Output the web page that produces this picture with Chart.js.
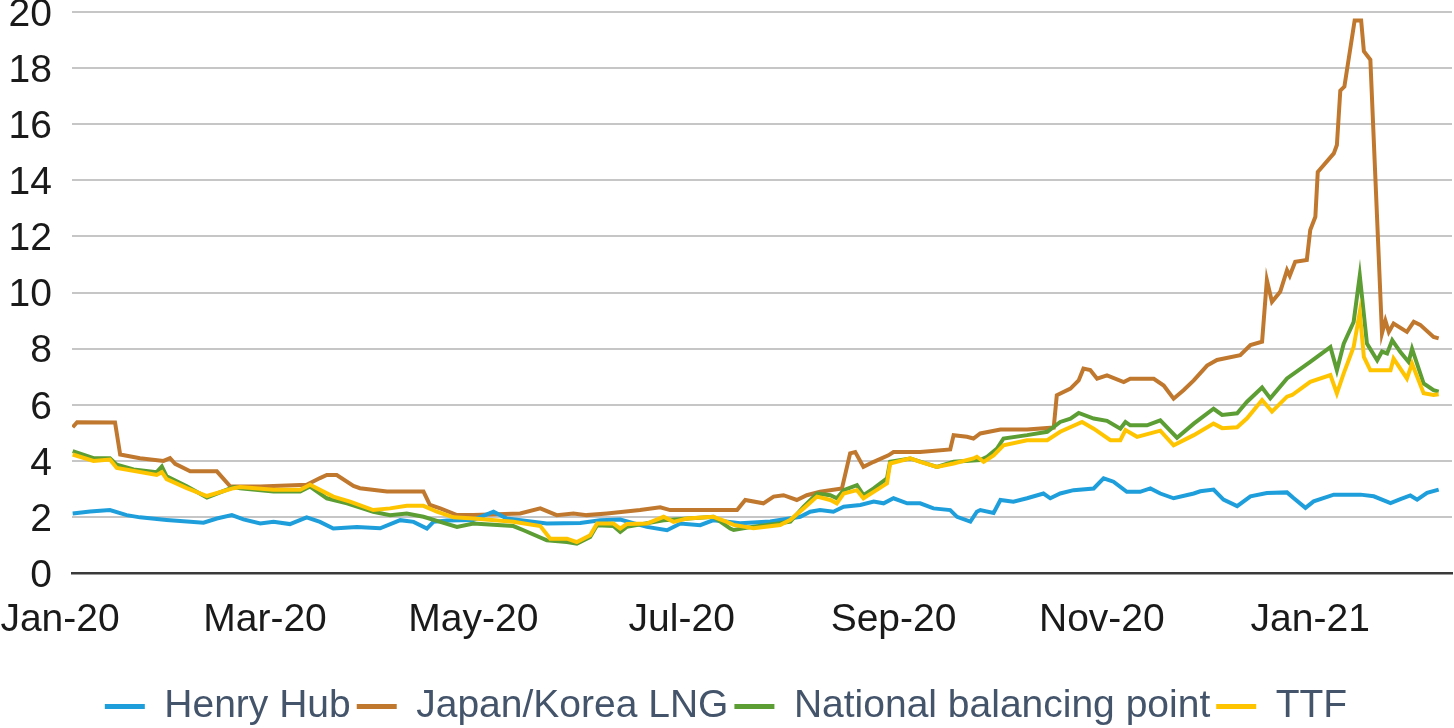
<!DOCTYPE html>
<html>
<head>
<meta charset="utf-8">
<title>Gas prices</title>
<script src="https://cdn.jsdelivr.net/npm/chart.js@4/dist/chart.umd.min.js"></script>
<style>
	html, body { margin: 0; padding: 0; background: #fff; overflow: hidden; }
	#wrap { width: 1454px; height: 728px; }
</style>
</head>
<body>
<div id="wrap"><canvas id="gasChart" width="1454" height="728"></canvas></div>
<script>
// x values are days since 1 Jan 2020
const tickDays = [0, 60, 121, 182, 244, 305, 366];
const tickLabels = ['Jan-20', 'Mar-20', 'May-20', 'Jul-20', 'Sep-20', 'Nov-20', 'Jan-21'];
const yTicks = [0, 2, 4, 6, 8, 10, 12, 14, 16, 18, 20];

const seriesNames = ['Henry Hub', 'Japan/Korea LNG', 'National balancing point', 'TTF'];
const seriesColors = ['#1e9fdc', '#c0782f', '#5c9e33', '#ffc400'];

const henryDays = [3.7, 8.8, 14.6, 19.5, 23.4, 31.2, 42, 45.9, 50.3, 53.7, 58.6, 62.5, 67.3, 72.2, 76.1, 80, 86.9, 93.7, 99.6, 103.5, 107.4, 109.3, 113.2, 121, 126.9, 130.8, 142.5, 152.3, 158.1, 164, 171.8, 177.7, 181.6, 187.4, 191.3, 199.1, 207.9, 216.7, 219.6, 222.5, 226.4, 229.4, 234.3, 238.2, 241.1, 244, 248, 251.8, 255.7, 260.6, 262.6, 266.5, 268.4, 269.4, 273.3, 275.3, 279.1, 283.1, 287.9, 289.9, 292.8, 296.7, 302.6, 305.5, 308.4, 312.3, 316.2, 319.2, 322.1, 326, 331.9, 333.8, 337.7, 340.6, 344.6, 348.5, 353.3, 359.2, 361.1, 364.6, 367, 372.9, 380.7, 384.6, 389.5, 392.4, 395.3, 397.3, 400.2, 403.6];
const henryValues = [2.13, 2.2, 2.25, 2.07, 1.99, 1.9, 1.8, 1.95, 2.07, 1.92, 1.77, 1.83, 1.75, 1.99, 1.83, 1.59, 1.65, 1.6, 1.89, 1.83, 1.59, 1.83, 1.88, 1.9, 2.19, 1.95, 1.77, 1.79, 1.89, 1.91, 1.65, 1.53, 1.77, 1.71, 1.89, 1.78, 1.84, 2.01, 2.19, 2.25, 2.19, 2.37, 2.43, 2.55, 2.49, 2.67, 2.49, 2.49, 2.31, 2.25, 2.01, 1.84, 2.19, 2.25, 2.15, 2.61, 2.55, 2.67, 2.84, 2.67, 2.84, 2.96, 3.02, 3.38, 3.26, 2.9, 2.9, 3.02, 2.84, 2.67, 2.84, 2.92, 2.98, 2.62, 2.39, 2.74, 2.86, 2.88, 2.68, 2.33, 2.56, 2.8, 2.8, 2.74, 2.5, 2.64, 2.77, 2.62, 2.86, 2.98];

const lngDays = [3.7, 5, 16.1, 17.6, 23.4, 30.3, 32.2, 33.7, 38.1, 45.9, 49.8, 52.7, 58.6, 72.2, 76.1, 78.1, 81, 85.9, 87.8, 95.7, 106.4, 108.3, 111.3, 116.2, 121, 134.7, 140.6, 145.4, 150.3, 154.2, 160.1, 169.8, 175.7, 178.6, 198.2, 200.6, 205.9, 208.9, 211.8, 215.7, 218.6, 222.5, 228.9, 231.3, 232.8, 235.2, 238.2, 242.5, 244, 251.8, 260.6, 261.6, 265.5, 267.4, 269.4, 275.3, 283.1, 290.9, 291.8, 295.8, 298.2, 299.6, 301.6, 303.6, 306.5, 311.4, 313.3, 320.2, 323.1, 326, 328.9, 331.9, 335.8, 338.7, 345.5, 348.5, 351.9, 353.3, 354.8, 357.2, 359.2, 360, 361.6, 365, 366, 367.5, 368.2, 372.9, 373.8, 374.8, 376, 379, 380.9, 381.7, 383.6, 387, 388, 389, 390.4, 394.3, 396.3, 398.2, 402.1, 403.6];
const lngValues = [5.2, 5.38, 5.37, 4.23, 4.1, 4.0, 4.1, 3.9, 3.63, 3.63, 3.1, 3.09, 3.09, 3.15, 3.39, 3.5, 3.5, 3.11, 3.03, 2.91, 2.91, 2.43, 2.31, 2.07, 2.07, 2.13, 2.31, 2.07, 2.13, 2.07, 2.13, 2.25, 2.35, 2.25, 2.25, 2.61, 2.49, 2.73, 2.78, 2.61, 2.78, 2.9, 3.02, 4.27, 4.32, 3.79, 3.97, 4.2, 4.32, 4.32, 4.41, 4.92, 4.86, 4.8, 4.98, 5.12, 5.12, 5.19, 6.34, 6.58, 6.87, 7.29, 7.24, 6.93, 7.05, 6.81, 6.93, 6.93, 6.69, 6.22, 6.52, 6.87, 7.4, 7.6, 7.77, 8.13, 8.25, 10.45, 9.67, 10.03, 10.8, 10.6, 11.1, 11.16, 12.23, 12.7, 14.3, 14.96, 15.26, 17.2, 17.34, 19.7, 19.7, 18.6, 18.3, 8.55, 9.0, 8.6, 8.9, 8.6, 8.96, 8.85, 8.42, 8.37];

const nbpDays = [3.7, 9.8, 14.6, 16.6, 21.5, 28.3, 29.8, 31.2, 37.1, 43, 50.8, 52.7, 62.5, 70.3, 73.2, 78.1, 84, 91.7, 96.6, 101.5, 106.4, 111.3, 116.2, 121, 132.7, 135.7, 142.5, 148.4, 151.3, 155.2, 157.2, 162, 164, 165.9, 176.7, 191.3, 196.2, 197.2, 203, 210.8, 213.8, 217.7, 221.6, 225.5, 227.4, 229.4, 233.3, 235.2, 238.2, 242.1, 243, 248.9, 256.7, 261.6, 269.4, 271.4, 274.3, 276.2, 283.1, 289, 292.8, 295.8, 298.2, 302.6, 306.5, 310.4, 311.9, 313.3, 318.2, 322.1, 327, 331.9, 337.7, 340.2, 344.6, 347.5, 351.9, 354.3, 359.2, 366, 371.9, 373.8, 375.8, 378.7, 380.5, 382.6, 385.6, 387, 388.5, 390, 392.4, 394.8, 395.8, 399.2, 402.1, 403.6];
const nbpValues = [4.35, 4.1, 4.1, 3.87, 3.7, 3.6, 3.8, 3.45, 3.1, 2.7, 3.07, 3.03, 2.91, 2.91, 3.09, 2.67, 2.49, 2.19, 2.07, 2.13, 2.01, 1.83, 1.65, 1.77, 1.68, 1.53, 1.17, 1.11, 1.05, 1.29, 1.71, 1.68, 1.47, 1.65, 1.89, 2.01, 1.59, 1.54, 1.66, 1.78, 1.84, 2.37, 2.84, 2.78, 2.67, 2.96, 3.14, 2.78, 3.02, 3.38, 3.97, 4.09, 3.79, 3.97, 4.03, 4.15, 4.44, 4.8, 4.92, 5.04, 5.39, 5.51, 5.71, 5.51, 5.43, 5.15, 5.39, 5.27, 5.27, 5.45, 4.83, 5.33, 5.86, 5.64, 5.7, 6.11, 6.62, 6.23, 6.94, 7.53, 8.06, 7.23, 8.18, 8.95, 10.6, 8.18, 7.59, 7.9, 7.83, 8.3, 7.88, 7.53, 8.0, 6.76, 6.52, 6.47];

const ttfDays = [3.7, 9.8, 14.6, 16.6, 28.3, 29.8, 31.2, 37.1, 43, 50.8, 52.7, 62.5, 70.3, 73.2, 76.1, 80, 84.9, 91.7, 96.6, 101.5, 106.4, 110.3, 115.2, 121, 132.7, 140.6, 143.5, 148.4, 151.3, 155.2, 157.2, 162, 164, 165.9, 171.8, 176.7, 179.6, 183.5, 191.3, 195.2, 197.2, 203, 210.8, 213.8, 217.7, 221.6, 225.5, 227.4, 229.4, 233.3, 235.2, 238.2, 242.1, 243, 248.9, 251.8, 256.7, 261.6, 267.4, 268.4, 270.4, 273.3, 276.2, 283.1, 289, 292.8, 299.2, 302.6, 307.5, 310.4, 311.9, 315.3, 322.1, 326, 331.9, 337.7, 340.2, 344.6, 347.5, 351.9, 354.8, 359.2, 360.7, 366, 371.9, 373.8, 375.8, 378.7, 380.5, 381.7, 383.6, 389.5, 390.4, 394.3, 395.8, 399.2, 402.1, 403.6];
const ttfValues = [4.23, 4.0, 4.05, 3.75, 3.5, 3.6, 3.35, 3.03, 2.75, 3.03, 3.07, 2.97, 2.97, 3.15, 2.97, 2.73, 2.55, 2.25, 2.31, 2.4, 2.4, 2.19, 1.99, 1.95, 1.83, 1.68, 1.23, 1.23, 1.11, 1.35, 1.77, 1.77, 1.59, 1.75, 1.77, 2.01, 1.83, 1.95, 2.01, 1.83, 1.72, 1.6, 1.72, 1.9, 2.31, 2.73, 2.61, 2.49, 2.84, 2.96, 2.67, 2.9, 3.2, 3.91, 4.09, 3.97, 3.79, 3.91, 4.09, 4.15, 3.97, 4.2, 4.56, 4.74, 4.74, 5.04, 5.39, 5.15, 4.74, 4.74, 5.1, 4.86, 5.08, 4.56, 4.92, 5.33, 5.17, 5.2, 5.52, 6.17, 5.76, 6.29, 6.35, 6.82, 7.06, 6.41, 7.12, 8.06, 9.3, 7.71, 7.23, 7.23, 7.65, 6.94, 7.47, 6.41, 6.35, 6.38];

const FONT = '"Liberation Sans", Arial, sans-serif';

const toPoints = (days, values) => days.map((d, i) => ({ x: d, y: values[i] }));

const makeDataset = (idx, days, values, order) => ({
	label: seriesNames[idx],
	data: toPoints(days, values),
	borderColor: seriesColors[idx],
	backgroundColor: seriesColors[idx],
	borderWidth: 4,
	pointRadius: 0,
	tension: 0,
	order: order
});

new Chart(document.getElementById('gasChart'), {
	type: 'line',
	data: {
		datasets: [
			makeDataset(0, henryDays, henryValues, 3),
			makeDataset(1, lngDays, lngValues, 4),
			makeDataset(2, nbpDays, nbpValues, 2),
			makeDataset(3, ttfDays, ttfValues, 1)
		]
	},
	options: {
		responsive: false,
		devicePixelRatio: 1,
		animation: false,
		layout: {
			padding: { left: 0, right: 2, top: 12, bottom: -8 }
		},
		scales: {
			x: {
				type: 'linear',
				min: 3.5,
				max: 407.5,
				afterBuildTicks: (scale) => {
					scale.ticks = tickDays.map(v => ({ value: v }));
				},
				afterFit: (scale) => {
					scale.paddingLeft = 0;
					scale.paddingRight = 0;
				},
				grid: { display: false, drawTicks: false },
				border: { display: true, color: '#3a3a3a', width: 2.5 },
				// empty title only reserves a little space above the legend
				title: { display: true, text: '', font: { size: 14, lineHeight: 1 }, padding: 0 },
				ticks: {
					autoSkip: false,
					maxRotation: 0,
					padding: 23.5,
					color: '#1a1a1a',
					font: { family: FONT, size: 39 },
					callback: (value) => {
						const i = tickDays.indexOf(value);
						return i >= 0 ? tickLabels[i] : '';
					}
				}
			},
			y: {
				min: 0,
				max: 20,
				afterBuildTicks: (scale) => {
					scale.ticks = yTicks.map(v => ({ value: v }));
				},
				afterFit: (scale) => {
					scale.width = 72;
					scale.paddingTop = 0;
					scale.paddingBottom = 0;
				},
				grid: { color: '#c6c6c6', lineWidth: 2, drawTicks: false },
				border: { display: false },
				ticks: {
					padding: 20,
					labelOffset: 3,
					color: '#1a1a1a',
					font: { family: FONT, size: 39 }
				}
			}
		},
		plugins: {
			legend: {
				display: true,
				position: 'bottom',
				labels: {
					boxWidth: 40,
					boxHeight: 5,
					padding: 6,
					color: '#44546a',
					font: { family: FONT, size: 39 },
					sort: (a, b) => a.datasetIndex - b.datasetIndex,
					generateLabels: (chart) => Chart.defaults.plugins.legend.labels.generateLabels(chart).map(l => Object.assign(l, { lineWidth: 0 }))
				}
			},
			tooltip: { enabled: false }
		}
	}
});
</script>
</body>
</html>
